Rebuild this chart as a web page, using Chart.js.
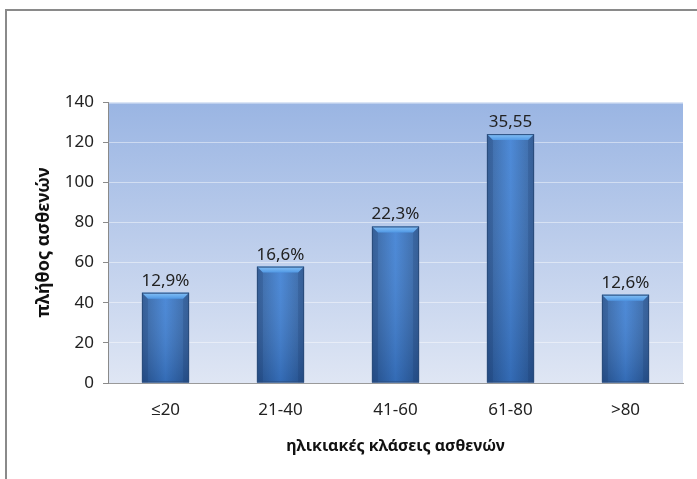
<!DOCTYPE html>
<html>
<head>
<meta charset="utf-8">
<script src="https://cdn.jsdelivr.net/npm/chart.js@4.4.0/dist/chart.umd.min.js"></script>
<style>
  html, body { margin: 0; padding: 0; background: #fff; overflow: hidden; }
  #wrap { position: relative; width: 697px; height: 479px; }
  #frame {
    position: absolute; left: 5px; top: 9px; width: 800px; height: 600px;
    border: 2px solid #8a8a8a; box-sizing: border-box;
  }
  canvas { position: absolute; left: 0; top: 0; }
</style>
</head>
<body>
<div id="wrap">
  <div id="frame"></div>
  <canvas id="chart" width="697" height="479"></canvas>
</div>
<script>
const categories = ["≤20", "21-40", "41-60", "61-80", ">80"];
const patients = [45, 58, 78, 124, 44];
const barLabels = ["12,9%", "16,6%", "22,3%", "35,55", "12,6%"];
const yTicks = [0, 20, 40, 60, 80, 100, 120, 140];

const fontFamily = "'Noto Sans', 'Open Sans', sans-serif";

// gradient background for the plot area
const plotBackground = {
  id: "plotBackground",
  beforeDraw(chart) {
    const { ctx, chartArea: a } = chart;
    const g = ctx.createLinearGradient(0, a.top, 0, a.bottom);
    g.addColorStop(0, "#9ab5e3");
    g.addColorStop(1, "#dfe6f4");
    ctx.save();
    ctx.fillStyle = g;
    ctx.fillRect(a.left, a.top, a.right - a.left, a.bottom - a.top);
    ctx.fillStyle = "rgba(255,255,255,0.35)";
    ctx.fillRect(a.left, a.top, a.right - a.left, 2);
    ctx.restore();
  }
};

// bevelled bars and value labels
const bevelBars = {
  id: "bevelBars",
  afterDatasetsDraw(chart) {
    const ctx = chart.ctx;
    const meta = chart.getDatasetMeta(0);
    meta.data.forEach((bar, i) => {
      const w = bar.width;
      const x0 = bar.x - w / 2;
      const x1 = bar.x + w / 2;
      const top = bar.y;
      const bottom = bar.base;
      const b = 6;
      ctx.save();

      let g = ctx.createLinearGradient(x0, 0, x1, 0);
      g.addColorStop(0, "#2d5c9a");
      g.addColorStop(0.5, "#3e80d4");
      g.addColorStop(1, "#2d5c9a");
      ctx.fillStyle = g;
      ctx.fillRect(x0, top, w, bottom - top);

      g = ctx.createLinearGradient(0, top, 0, bottom);
      g.addColorStop(0, "rgba(255,255,255,0.08)");
      g.addColorStop(1, "rgba(10,30,70,0.22)");
      ctx.fillStyle = g;
      ctx.fillRect(x0, top, w, bottom - top);

      // side bevels
      ctx.fillStyle = "rgba(20,50,100,0.18)";
      ctx.beginPath();
      ctx.moveTo(x0, top); ctx.lineTo(x0 + b, top + b);
      ctx.lineTo(x0 + b, bottom); ctx.lineTo(x0, bottom); ctx.closePath();
      ctx.fill();
      ctx.beginPath();
      ctx.moveTo(x1, top); ctx.lineTo(x1 - b, top + b);
      ctx.lineTo(x1 - b, bottom); ctx.lineTo(x1, bottom); ctx.closePath();
      ctx.fill();

      // top bevel
      g = ctx.createLinearGradient(0, top, 0, top + b);
      g.addColorStop(0, "#86c2f7");
      g.addColorStop(1, "#5098e4");
      ctx.fillStyle = g;
      ctx.beginPath();
      ctx.moveTo(x0, top); ctx.lineTo(x1, top);
      ctx.lineTo(x1 - b, top + b); ctx.lineTo(x0 + b, top + b); ctx.closePath();
      ctx.fill();

      ctx.strokeStyle = "#2a4c7c";
      ctx.lineWidth = 1;
      ctx.strokeRect(x0 + 0.5, top + 0.5, w - 1, bottom - top - 1);

      ctx.fillStyle = "#222";
      ctx.font = "17px " + fontFamily;
      ctx.textAlign = "center";
      ctx.textBaseline = "alphabetic";
      ctx.fillText(barLabels[i], bar.x, top - 7);
      ctx.restore();
    });
  }
};

new Chart(document.getElementById("chart"), {
  type: "bar",
  data: {
    labels: categories,
    datasets: [{
      data: patients,
      backgroundColor: "rgba(0,0,0,0)",
      categoryPercentage: 1,
      barPercentage: 0.41
    }]
  },
  options: {
    responsive: false,
    animation: false,
    events: [],
    layout: { padding: { left: 33, right: 14, top: 102, bottom: 20 } },
    plugins: {
      legend: { display: false },
      tooltip: { enabled: false }
    },
    scales: {
      x: {
        grid: { display: false },
        border: { color: "#9a9a9a", width: 1 },
        ticks: { color: "#222", padding: 9, font: { family: fontFamily, size: 17 } },
        title: {
          display: true,
          text: "ηλικιακές κλάσεις ασθενών",
          color: "#111",
          padding: { top: 0, bottom: 3 },
          font: { family: fontFamily, size: 16, weight: "bold" }
        },
        afterFit(scale) { scale.height = 76; }
      },
      y: {
        min: 0,
        max: 140,
        afterBuildTicks(scale) { scale.ticks = yTicks.map(v => ({ value: v })); },
        grid: {
          color: "rgba(255,255,255,0.45)",
          tickColor: "#8a8a8a",
          tickLength: 5,
          drawOnChartArea: true
        },
        border: { color: "#8a8a8a", width: 1 },
        ticks: { color: "#222", padding: 9, font: { family: fontFamily, size: 17 } },
        title: {
          display: true,
          text: "πλήθος ασθενών",
          color: "#111",
          padding: 0,
          font: { family: fontFamily, size: 18, weight: "bold" }
        },
        afterFit(scale) { scale.width = 75; }
      }
    }
  },
  plugins: [plotBackground, bevelBars]
});
</script>
</body>
</html>
